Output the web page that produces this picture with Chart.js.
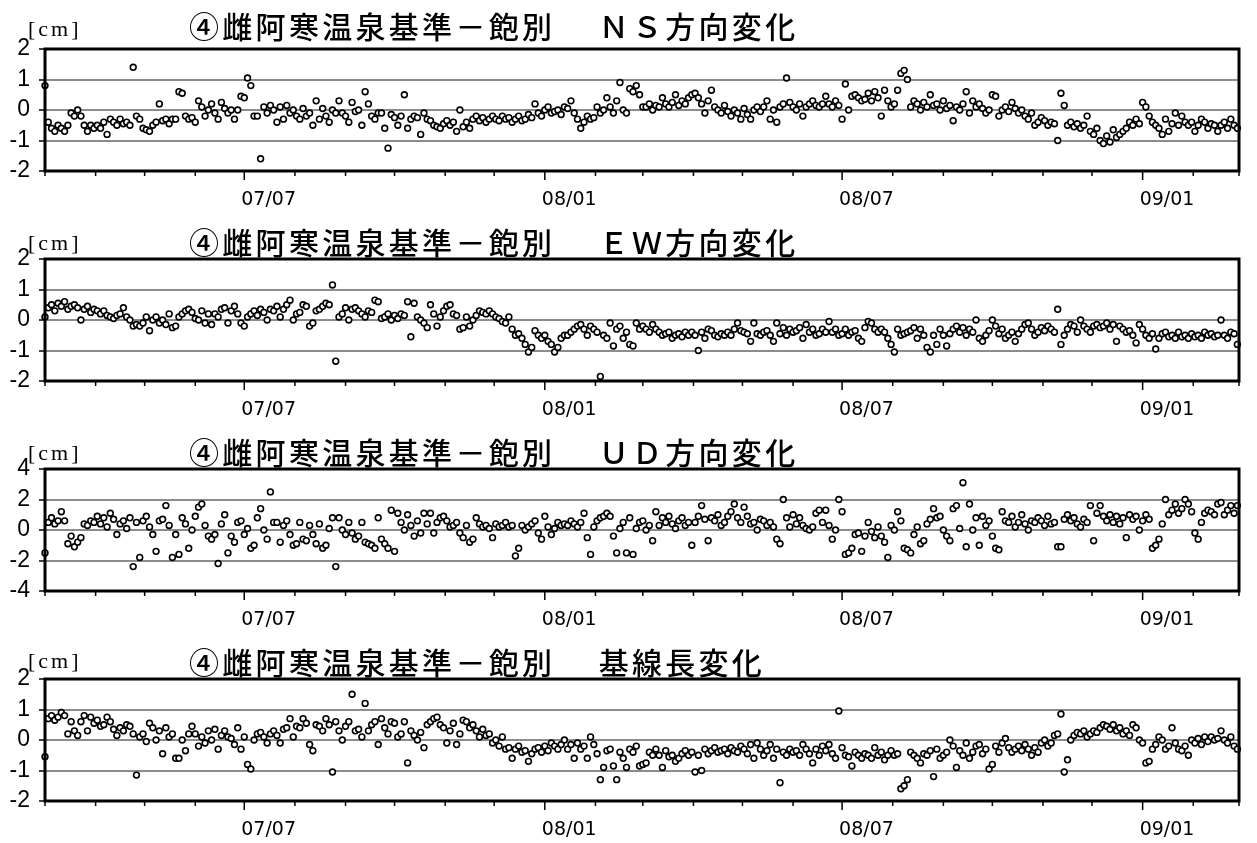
<!DOCTYPE html>
<html>
<head>
<meta charset="utf-8">
<script src="https://cdn.jsdelivr.net/npm/chart.js@4.4.0/dist/chart.umd.min.js"></script>
<style>
body { margin: 0; background: #fff; width: 1257px; height: 843px; position: relative; overflow: hidden; }
canvas { position: absolute; left: 0; }
.ttl { position: absolute; left: 189px; font-family: "Noto Sans CJK JP"; font-weight: 500; font-size: 30px; letter-spacing: 3.3px; line-height: 30px; white-space: nowrap; color: #000; }
.unit { position: absolute; left: 28px; font-family: "Liberation Serif"; font-size: 22px; letter-spacing: 3px; line-height: 22px; color: #000; }
</style>
</head>
<body>
<script>
// sampling of the series: one value every 2 days from startDate
var startDate = '2007-03-01';
var endDate = '2009-03-01';
var stepDays = 2;

// month ticks on the time axis, labelled every half year
var tickDates = ['2007-03-01','2007-04-01','2007-05-01','2007-06-01','2007-07-01','2007-08-01','2007-09-01','2007-10-01','2007-11-01','2007-12-01',
  '2008-01-01','2008-02-01','2008-03-01','2008-04-01','2008-05-01','2008-06-01','2008-07-01','2008-08-01','2008-09-01','2008-10-01','2008-11-01','2008-12-01',
  '2009-01-01','2009-02-01','2009-03-01'];
var tickLabels = ['','','','','07/07','','','','','','08/01','','','','','','08/07','','','','','','09/01','',''];

var titles = [
  '④雌阿寒温泉基準－飽別　 ＮＳ方向変化',
  '④雌阿寒温泉基準－飽別　 ＥＷ方向変化',
  '④雌阿寒温泉基準－飽別　 ＵＤ方向変化',
  '④雌阿寒温泉基準－飽別　 基線長変化'
];
var unitLabel = '[cm]';
var yLimits = [2, 2, 4, 2];
var ySteps = [1, 1, 2, 1];

var nsValues = [
  0.8,-0.4,-0.6,-0.7,-0.5,-0.6,-0.7,-0.5,-0.1,-0.2,
  0.0,-0.2,-0.5,-0.7,-0.5,-0.6,-0.5,-0.6,-0.4,-0.8,
  -0.3,-0.4,-0.5,-0.3,-0.45,-0.4,-0.5,1.4,-0.2,-0.3,
  -0.6,-0.65,-0.7,-0.5,-0.4,0.2,-0.35,-0.3,-0.45,-0.3,
  -0.3,0.6,0.55,-0.2,-0.3,-0.25,-0.4,0.3,0.1,-0.2,
  0.0,0.2,-0.1,-0.3,0.25,0.05,-0.1,0.0,-0.3,0.0,
  0.45,0.4,1.05,0.8,-0.2,-0.2,-1.6,0.1,-0.1,0.15,
  0.0,-0.4,0.1,-0.3,0.15,-0.1,0.0,-0.2,-0.3,0.05,
  -0.2,-0.1,-0.5,0.3,-0.3,0.05,-0.2,-0.4,0.0,-0.1,
  0.3,-0.1,-0.2,-0.4,0.25,-0.05,0.0,-0.5,0.6,0.2,
  -0.2,-0.3,-0.1,-0.1,-0.6,-1.25,-0.15,-0.25,-0.5,-0.2,
  0.5,-0.6,-0.3,-0.2,-0.25,-0.8,-0.1,-0.3,-0.35,-0.5,
  -0.55,-0.6,-0.45,-0.35,-0.5,-0.4,-0.7,0.0,-0.55,-0.4,
  -0.6,-0.3,-0.2,-0.35,-0.25,-0.4,-0.3,-0.2,-0.3,-0.35,
  -0.2,-0.3,-0.25,-0.4,-0.3,-0.2,-0.35,-0.3,-0.15,-0.25,
  0.2,-0.1,-0.2,0.0,0.1,-0.1,-0.05,0.0,-0.15,0.1,
  0.05,0.3,-0.1,-0.3,-0.6,-0.4,-0.2,-0.3,-0.25,0.1,
  -0.1,0.0,0.4,0.1,-0.1,0.3,0.9,0.0,-0.1,0.7,
  0.6,0.8,0.5,0.1,0.1,0.2,0.0,0.15,0.1,0.4,
  0.2,0.1,0.25,0.5,0.15,0.3,0.2,0.4,0.5,0.55,
  0.4,0.2,-0.1,0.3,0.65,0.1,0.0,-0.1,0.15,-0.05,
  -0.2,0.0,-0.1,-0.3,0.05,-0.15,-0.3,0.0,0.1,-0.05,
  0.1,0.3,-0.3,0.0,-0.4,0.1,0.2,1.05,0.25,0.1,
  0.0,0.2,-0.2,0.1,0.2,0.3,0.15,0.1,0.2,0.45,
  0.2,0.1,0.3,0.15,-0.3,0.85,0.0,0.45,0.5,0.4,
  0.3,0.35,0.55,0.3,0.6,0.4,-0.2,0.65,0.3,0.1,
  0.2,0.65,1.2,1.3,1.0,0.1,0.3,0.2,0.0,0.25,
  0.1,0.5,0.15,0.2,0.0,0.3,0.05,0.15,-0.35,0.1,
  0.0,0.2,0.6,-0.1,0.3,0.1,0.2,0.05,-0.1,0.0,
  0.5,0.45,-0.2,0.0,0.1,-0.05,0.25,0.05,-0.1,0.0,
  -0.2,-0.3,-0.1,-0.5,-0.4,-0.25,-0.35,-0.5,-0.4,-0.45,
  -1.0,0.55,0.15,-0.5,-0.4,-0.55,-0.45,-0.6,-0.5,-0.2,
  -0.7,-0.8,-0.6,-1.0,-1.1,-0.85,-1.05,-0.65,-0.9,-0.8,
  -0.7,-0.6,-0.4,-0.5,-0.3,-0.45,0.25,0.1,-0.2,-0.4,
  -0.5,-0.6,-0.8,-0.3,-0.7,-0.45,-0.1,-0.5,-0.2,-0.4,
  -0.5,-0.4,-0.7,-0.5,-0.3,-0.4,-0.6,-0.45,-0.5,-0.7,
  -0.5,-0.4,-0.6,-0.3,-0.5,-0.6
];

var ewValues = [
  0.1,0.4,0.5,0.3,0.55,0.45,0.6,0.35,0.45,0.5,
  0.4,0.0,0.35,0.45,0.25,0.35,0.3,0.2,0.3,0.15,
  0.1,0.05,0.15,0.2,0.4,0.1,0.0,-0.2,-0.15,-0.2,
  -0.1,0.1,-0.35,0.0,0.1,-0.1,0.0,-0.15,0.2,-0.25,
  -0.2,0.1,0.2,0.3,0.35,0.25,0.05,0.0,0.3,-0.1,
  0.2,-0.15,0.2,0.1,0.35,0.4,-0.1,0.3,0.45,0.2,
  -0.1,-0.2,0.1,0.2,0.3,0.15,0.35,0.25,0.0,0.35,
  0.3,0.45,0.1,0.35,0.5,0.65,0.0,0.2,0.25,0.5,
  0.45,-0.2,-0.1,0.3,0.35,0.45,0.55,0.5,1.15,-1.35,
  0.1,0.2,0.4,0.0,0.35,0.4,0.3,0.2,0.1,0.3,
  0.25,0.65,0.6,0.05,0.1,0.2,0.0,0.15,0.05,0.2,
  0.15,0.6,-0.55,0.55,0.1,0.0,-0.1,-0.25,0.5,0.2,
  -0.2,0.1,0.3,0.45,0.5,0.2,0.15,-0.3,-0.25,0.1,
  -0.2,0.0,0.15,0.3,0.25,0.2,0.3,0.2,0.1,0.05,
  -0.05,-0.1,0.1,-0.3,-0.5,-0.45,-0.6,-0.8,-1.05,-0.9,
  -0.35,-0.5,-0.6,-0.5,-0.7,-0.8,-1.05,-0.9,-0.6,-0.5,
  -0.5,-0.4,-0.3,-0.2,-0.15,-0.3,-0.5,-0.2,-0.3,-0.4,
  -1.85,-0.5,-0.6,-0.1,-0.85,-0.3,-0.2,-0.6,-0.4,-0.8,
  -0.85,-0.1,-0.3,-0.2,-0.3,-0.4,-0.15,-0.3,-0.4,-0.5,
  -0.45,-0.4,-0.6,-0.5,-0.45,-0.55,-0.4,-0.5,-0.4,-0.5,
  -1.0,-0.4,-0.6,-0.3,-0.35,-0.5,-0.55,-0.45,-0.5,-0.4,
  -0.5,-0.3,-0.1,-0.35,-0.4,-0.45,-0.7,-0.1,-0.45,-0.5,
  -0.4,-0.35,-0.5,-0.7,-0.1,-0.45,-0.25,-0.5,-0.3,-0.4,
  -0.35,-0.25,-0.6,-0.15,-0.4,-0.3,-0.5,-0.45,-0.3,-0.4,
  -0.05,-0.4,-0.3,-0.5,-0.45,-0.3,-0.5,-0.4,-0.35,-0.6,
  -0.7,-0.25,-0.05,-0.1,-0.3,-0.4,-0.3,-0.4,-0.6,-0.8,
  -1.05,-0.3,-0.5,-0.45,-0.4,-0.35,-0.25,-0.6,-0.3,-0.5,
  -0.9,-1.05,-0.5,-0.8,-0.3,-0.5,-0.85,-0.45,-0.3,-0.2,
  -0.4,-0.25,-0.5,-0.3,-0.4,0.0,-0.6,-0.7,-0.5,-0.35,
  0.0,-0.2,-0.45,-0.3,-0.6,-0.5,-0.4,-0.7,-0.45,-0.3,
  -0.15,-0.1,-0.3,-0.5,-0.4,-0.25,-0.35,-0.2,-0.3,-0.4,
  0.35,-0.8,-0.5,-0.3,-0.15,-0.2,-0.4,0.0,-0.2,-0.3,
  -0.4,-0.2,-0.15,-0.25,-0.2,-0.1,-0.3,-0.15,-0.7,-0.2,
  -0.3,-0.4,-0.35,-0.5,-0.75,-0.15,-0.3,-0.5,-0.6,-0.45,
  -0.95,-0.6,-0.45,-0.4,-0.55,-0.5,-0.6,-0.4,-0.55,-0.5,
  -0.6,-0.45,-0.55,-0.5,-0.6,-0.4,-0.5,-0.45,-0.55,-0.5,
  0.0,-0.5,-0.6,-0.4,-0.45,-0.8
];

var udValues = [
  -1.5,0.5,0.8,0.4,0.6,1.2,0.6,-0.9,-0.4,-1.1,
  -0.8,-0.5,0.4,0.3,0.6,0.5,0.9,0.4,0.8,0.2,
  1.1,0.7,-0.3,0.4,0.6,0.1,0.8,-2.4,0.5,-1.8,
  0.6,0.9,0.2,-0.3,-1.4,0.6,0.7,1.6,0.3,-1.8,
  -0.3,-1.6,0.8,0.4,-1.2,0.0,0.9,1.5,1.7,0.3,
  -0.4,-0.6,-0.3,-2.2,0.4,1.0,-1.5,-0.4,-0.8,0.5,
  0.6,-0.3,0.1,-1.2,-1.0,0.8,1.4,0.0,-0.6,2.5,
  0.5,0.5,-0.8,0.3,0.6,-0.3,-1.0,-0.9,0.5,-0.6,
  -0.7,0.3,-0.3,-0.9,0.4,-1.2,-1.0,0.1,0.8,-2.4,
  0.8,0.0,-0.3,0.5,-0.2,-0.6,-0.4,0.5,-0.8,-0.9,
  -1.0,-1.2,0.8,-0.6,-0.9,-1.2,1.3,-1.4,1.1,0.5,
  0.0,1.0,0.3,-0.4,0.6,-0.2,1.1,0.4,1.1,-0.2,
  0.5,0.8,0.9,0.6,0.2,0.3,0.5,-0.2,-0.5,0.3,
  -0.8,-0.6,0.8,0.4,0.2,0.3,0.1,-0.5,0.4,0.2,
  0.3,0.5,0.2,0.3,-1.7,-1.2,0.3,0.0,0.2,0.4,
  0.6,-0.2,-0.6,0.9,0.2,-0.3,0.1,0.5,0.3,0.4,
  0.3,0.6,0.4,0.2,0.5,1.1,-0.5,-1.6,0.2,0.6,
  0.8,0.9,1.1,0.9,-0.4,-1.5,0.1,0.5,-1.5,0.8,
  -1.6,0.1,0.5,0.6,0.0,0.3,-0.7,1.2,0.3,0.8,
  0.5,0.9,0.4,0.1,0.6,0.8,0.3,0.5,-1.0,0.5,
  0.9,1.6,0.7,-0.7,0.8,0.6,1.0,0.3,0.5,0.9,
  1.2,1.7,0.8,0.5,1.5,0.9,0.4,0.5,0.0,0.7,
  0.6,0.3,0.5,0.2,-0.6,-0.9,2.0,0.8,0.2,1.0,
  0.4,0.8,0.3,0.1,0.0,0.2,1.1,1.3,0.5,1.3,
  0.3,-0.6,0.0,2.0,1.2,-1.6,-1.5,-1.2,-0.3,-0.2,
  -1.4,-0.4,0.5,-0.1,-0.5,0.2,-0.4,-0.8,-1.8,0.3,
  0.0,1.2,0.6,-1.2,-1.3,-1.5,-0.3,0.2,-0.9,-0.7,
  0.4,0.7,1.4,0.8,0.9,0.0,-0.4,-0.7,1.4,1.6,
  0.1,3.1,-1.1,1.7,0.0,0.8,-1.0,0.9,0.3,0.6,
  -0.4,-1.2,-1.3,1.2,0.6,0.5,0.9,0.2,0.5,1.0,
  0.4,0.0,0.6,0.5,0.8,0.6,0.3,0.9,0.4,0.5,
  -1.1,-1.1,0.7,1.0,0.6,0.8,0.4,0.2,0.7,0.5,
  1.6,-0.7,1.1,1.6,0.9,0.6,1.0,0.5,0.9,0.4,
  0.8,-0.5,1.0,0.7,0.9,0.0,0.6,1.0,0.7,-1.2,
  -1.0,-0.6,0.4,2.0,1.0,1.3,1.7,1.1,1.4,2.0,
  1.7,1.2,-0.2,-0.6,0.5,1.1,1.3,1.2,1.0,1.7,
  1.8,1.0,1.3,1.6,1.1,1.6
];

var blValues = [
  -0.55,0.7,0.8,0.65,0.75,0.9,0.8,0.2,0.6,0.3,
  0.15,0.6,0.8,0.3,0.75,0.55,0.65,0.45,0.5,0.75,
  0.6,0.35,0.15,0.4,0.3,0.5,0.45,0.2,-1.15,0.1,
  0.2,-0.05,0.55,0.4,0.0,0.3,-0.45,0.4,0.1,0.2,
  -0.6,-0.6,0.0,-0.35,0.2,0.45,0.2,-0.2,0.1,-0.1,
  0.3,0.0,0.35,-0.3,0.15,0.3,0.1,0.05,-0.15,0.4,
  -0.3,0.1,-0.8,-0.95,0.0,0.2,0.25,0.1,-0.1,0.2,
  0.3,0.15,-0.1,0.35,0.4,0.7,0.1,0.45,0.4,0.7,
  0.55,-0.15,-0.35,0.5,0.45,0.3,0.7,0.5,-1.05,0.6,
  0.3,0.0,0.45,0.6,1.5,0.3,0.35,0.1,1.2,0.3,
  0.5,0.6,-0.15,0.7,0.4,0.2,0.6,0.55,0.1,0.2,
  0.6,-0.75,0.3,0.15,0.0,0.25,-0.25,0.5,0.6,0.7,
  0.75,0.5,0.4,-0.1,0.3,0.55,-0.15,0.2,0.65,0.6,
  0.4,0.5,0.3,0.1,0.35,0.15,0.2,-0.1,0.0,-0.2,
  0.1,-0.3,-0.25,-0.6,-0.3,-0.2,-0.4,-0.35,-0.7,-0.45,
  -0.3,-0.25,-0.4,-0.2,-0.35,-0.1,-0.2,-0.3,-0.15,0.0,
  -0.3,-0.15,-0.6,-0.1,-0.3,-0.2,-0.6,0.1,-0.15,-0.45,
  -1.3,-0.9,-0.35,-0.3,-0.85,-1.3,-0.4,-0.6,-0.9,-0.3,
  -0.4,-0.2,-0.85,-0.8,-0.75,-0.4,-0.5,-0.3,-0.5,-0.9,
  -0.35,-0.55,-0.5,-0.7,-0.6,-0.45,-0.35,-0.5,-0.4,-1.05,
  -0.5,-1.0,-0.3,-0.45,-0.35,-0.25,-0.4,-0.35,-0.3,-0.45,
  -0.25,-0.35,-0.4,-0.2,-0.3,-0.45,-0.15,-0.6,-0.1,-0.3,
  -0.5,-0.35,-0.15,-0.6,-0.3,-1.4,-0.4,-0.5,-0.3,-0.4,
  -0.35,-0.5,-0.15,-0.3,-0.45,-0.75,-0.3,-0.5,-0.2,-0.35,
  -0.15,-0.45,-0.6,0.95,-0.25,-0.5,-0.55,-0.85,-0.4,-0.5,
  -0.6,-0.45,-0.5,-0.6,-0.25,-0.5,-0.4,-0.65,-0.5,-0.35,
  -0.5,-0.45,-1.6,-1.5,-1.3,-0.4,-0.5,-0.6,-0.75,-0.45,
  -0.5,-0.35,-1.2,-0.3,-0.6,-0.5,-0.4,0.0,-0.2,-0.9,
  -0.35,-0.5,-0.1,-0.6,-0.4,-0.2,-0.15,-0.45,-0.3,-0.95,
  -0.8,-0.2,-0.4,-0.1,0.05,-0.25,-0.4,-0.3,-0.2,-0.35,
  -0.15,-0.3,-0.5,-0.25,-0.4,-0.1,0.0,-0.2,-0.1,0.15,
  0.2,0.85,-1.05,-0.65,0.0,0.15,0.25,0.2,0.3,0.1,
  0.2,0.3,0.25,0.4,0.5,0.45,0.35,0.5,0.3,0.4,
  0.2,0.3,0.15,0.5,0.4,0.0,-0.1,-0.75,-0.7,-0.3,
  -0.15,0.1,0.0,-0.3,-0.2,0.4,-0.1,-0.3,-0.35,-0.2,
  -0.5,0.0,-0.1,0.05,-0.15,0.1,-0.05,0.1,0.0,0.05,
  0.3,0.0,-0.1,0.1,-0.2,-0.3
];

var series = [nsValues, ewValues, udValues, blValues];

function dayOf(s) {
  return (Date.parse(s) - Date.parse(startDate)) / 86400000;
}

//Draw month tick marks below the axis and the heavy frame round the plot
var framePlugin = {
  id: 'frame',
  afterDraw: function(chart) {
    var ctx = chart.ctx;
    var a = chart.chartArea;
    var x = chart.scales.x;
    ctx.save();
    ctx.strokeStyle = '#000';
    ctx.lineWidth = 1.5;
    x.ticks.forEach(function(t, i) {
      var px = x.getPixelForValue(t.value);
      var len = tickLabels[i] ? 9 : 5;
      ctx.beginPath();
      ctx.moveTo(px, a.bottom);
      ctx.lineTo(px, a.bottom + len);
      ctx.stroke();
    });
    ctx.lineWidth = 3;
    ctx.strokeRect(a.left, a.top, a.right - a.left, a.bottom - a.top);
    ctx.restore();
  }
};

var panelTop = [0, 210, 420, 630];
var titleTop = [10, 226, 436, 646];
var unitTop = [18, 232, 442, 650];

for (var p = 0; p < 4; p++) {
  var cv = document.createElement('canvas');
  cv.width = 1257;
  cv.height = 210;
  cv.style.top = panelTop[p] + 'px';
  document.body.appendChild(cv);

  var t = document.createElement('div');
  t.className = 'ttl';
  t.style.top = titleTop[p] + 'px';
  t.textContent = titles[p];
  document.body.appendChild(t);

  var u = document.createElement('div');
  u.className = 'unit';
  u.style.top = unitTop[p] + 'px';
  u.textContent = unitLabel;
  document.body.appendChild(u);

  var pts = series[p].map(function(v, i) {
    return { x: i * stepDays, y: v };
  });

  new Chart(cv.getContext('2d'), {
    type: 'scatter',
    data: {
      datasets: [{
        data: pts,
        pointStyle: 'circle',
        pointRadius: 2.9,
        pointBorderWidth: 1.6,
        borderColor: '#000',
        backgroundColor: '#fff',
        clip: 4
      }]
    },
    options: {
      responsive: false,
      animation: false,
      events: [],
      layout: { padding: { top: 49, right: 3, left: 0, bottom: 0 } },
      plugins: { legend: { display: false }, tooltip: { enabled: false } },
      scales: {
        x: {
          type: 'linear',
          min: 0,
          max: dayOf(endDate),
          afterBuildTicks: function(scale) {
            scale.ticks = tickDates.map(function(d) { return { value: dayOf(d) }; });
          },
          afterFit: function(scale) { scale.height = 39; },
          grid: { display: false, drawTicks: false },
          border: { display: false },
          ticks: {
            autoSkip: false,
            maxRotation: 0,
            align: 'start',
            labelOffset: -3,
            padding: 18,
            color: '#000',
            font: { family: 'DejaVu Sans', size: 19 },
            callback: function(v, i) { return tickLabels[i]; }
          }
        },
        y: {
          min: -yLimits[p],
          max: yLimits[p],
          afterFit: function(scale) { scale.width = 45; },
          grid: { color: '#8c8c8c', lineWidth: 2, tickColor: '#000', tickLength: 6, tickWidth: 1.5 },
          border: { display: false },
          ticks: {
            stepSize: ySteps[p],
            autoSkip: false,
            padding: 9,
            color: '#000',
            font: { family: 'Liberation Sans', size: 23 }
          }
        }
      }
    },
    plugins: [framePlugin]
  });
}
</script>
</body>
</html>
